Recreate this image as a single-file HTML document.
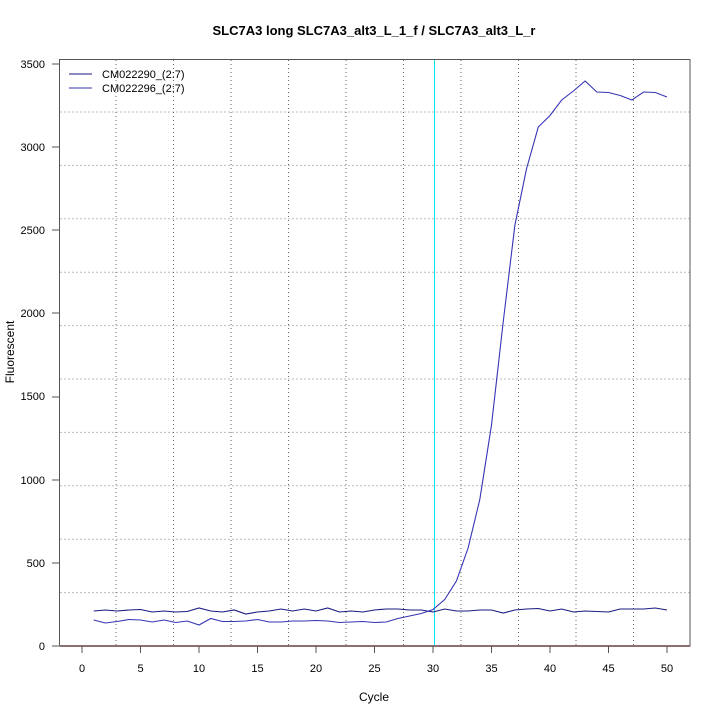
<!DOCTYPE html>
<html><head><meta charset="utf-8"><style>body{margin:0;background:#fff}svg{display:block}</style></head><body>
<svg width="720" height="720" xmlns="http://www.w3.org/2000/svg" font-family="Liberation Sans, sans-serif">
<rect width="720" height="720" fill="#fff"/>
<text x="374" y="35" font-size="13" font-weight="bold" text-anchor="middle">SLC7A3 long SLC7A3_alt3_L_1_f / SLC7A3_alt3_L_r</text>
<g stroke="#bbb" stroke-dasharray="2,2" stroke-width="1">
<line x1="60" x2="690" y1="112" y2="112"/><line x1="60" x2="690" y1="165.4" y2="165.4"/><line x1="60" x2="690" y1="218.8" y2="218.8"/><line x1="60" x2="690" y1="272.2" y2="272.2"/><line x1="60" x2="690" y1="325.6" y2="325.6"/><line x1="60" x2="690" y1="379" y2="379"/><line x1="60" x2="690" y1="432.4" y2="432.4"/><line x1="60" x2="690" y1="485.8" y2="485.8"/><line x1="60" x2="690" y1="539.2" y2="539.2"/><line x1="60" x2="690" y1="592.6" y2="592.6"/>
</g>
<g stroke="#666" stroke-dasharray="1,3" stroke-width="1">
<line y1="60" y2="646" x1="116" x2="116"/><line y1="60" y2="646" x1="173.5" x2="173.5"/><line y1="60" y2="646" x1="231" x2="231"/><line y1="60" y2="646" x1="288.5" x2="288.5"/><line y1="60" y2="646" x1="346" x2="346"/><line y1="60" y2="646" x1="403.5" x2="403.5"/><line y1="60" y2="646" x1="461" x2="461"/><line y1="60" y2="646" x1="518.5" x2="518.5"/><line y1="60" y2="646" x1="576" x2="576"/><line y1="60" y2="646" x1="633.5" x2="633.5"/>
</g>
<line x1="60" x2="690" y1="646" y2="646" stroke="#8b1a1a" stroke-width="1.5"/>
<line x1="434.5" x2="434.5" y1="60" y2="646" stroke="#00e5ee" stroke-width="1"/>
<rect x="59.5" y="59.5" width="630.5" height="586.5" fill="none" stroke="#555"/>
<g font-size="11" text-anchor="end">
<text x="45" y="650">0</text><text x="45" y="567">500</text><text x="45" y="484">1000</text><text x="45" y="400">1500</text><text x="45" y="317">2000</text><text x="45" y="234">2500</text><text x="45" y="151">3000</text><text x="45" y="68">3500</text>
</g>
<g stroke="#555"><line x1="52" x2="59" y1="646" y2="646"/><line x1="52" x2="59" y1="563" y2="563"/><line x1="52" x2="59" y1="480" y2="480"/><line x1="52" x2="59" y1="397" y2="397"/><line x1="52" x2="59" y1="313" y2="313"/><line x1="52" x2="59" y1="230" y2="230"/><line x1="52" x2="59" y1="147" y2="147"/><line x1="52" x2="59" y1="64" y2="64"/></g>
<g stroke="#555">
<line x1="82" x2="82" y1="646" y2="653"/><line x1="140.5" x2="140.5" y1="646" y2="653"/><line x1="199" x2="199" y1="646" y2="653"/><line x1="257.5" x2="257.5" y1="646" y2="653"/><line x1="316" x2="316" y1="646" y2="653"/><line x1="374.5" x2="374.5" y1="646" y2="653"/><line x1="433" x2="433" y1="646" y2="653"/><line x1="491.5" x2="491.5" y1="646" y2="653"/><line x1="550" x2="550" y1="646" y2="653"/><line x1="608.5" x2="608.5" y1="646" y2="653"/><line x1="667" x2="667" y1="646" y2="653"/>
</g>
<g font-size="11" text-anchor="middle">
<text x="82" y="672">0</text><text x="140.5" y="672">5</text><text x="199" y="672">10</text><text x="257.5" y="672">15</text><text x="316" y="672">20</text><text x="374.5" y="672">25</text><text x="433" y="672">30</text><text x="491.5" y="672">35</text><text x="550" y="672">40</text><text x="608.5" y="672">45</text><text x="667" y="672">50</text>
</g>
<text x="374" y="701" font-size="12" text-anchor="middle">Cycle</text>
<text transform="translate(14,352) rotate(-90)" font-size="12" text-anchor="middle">Fluorescent</text>
<line x1="69" x2="92" y1="74" y2="74" stroke="#1a1a80"/>
<line x1="69" x2="92" y1="88" y2="88" stroke="#3535b5"/>
<text x="102" y="78" font-size="11">CM022290_(2:7)</text>
<text x="102" y="92" font-size="11">CM022296_(2:7)</text>
<polyline fill="none" stroke="#1a1a80" stroke-width="1.1" points="93.7,611 105.4,610 117.1,611 128.8,610 140.5,609.5 152.2,612 163.9,611 175.6,612 187.3,611.5 199,608 210.7,611 222.4,612 234.1,610 245.8,614 257.5,612 269.2,611 280.9,609 292.6,611 304.3,609 316,611 327.7,608 339.4,612 351.1,611 362.8,612 374.5,610 386.2,609 397.9,609 409.6,610 421.3,610 433,612 444.7,609 456.4,611 468.1,611 479.8,610 491.5,610 503.2,613 514.9,610 526.6,609 538.3,608.5 550,611 561.7,609 573.4,612 585.1,611 596.8,611.5 608.5,612 620.2,609 631.9,609 643.6,609 655.3,608 667,610"/>
<polyline fill="none" stroke="#3535b5" stroke-width="1.1" points="93.7,620 105.4,623 117.1,621.5 128.8,619.5 140.5,620 152.2,622 163.9,620 175.6,622.5 187.3,621 199,625 210.7,618.5 222.4,621.5 234.1,621.5 245.8,621 257.5,619.5 269.2,622 280.9,622 292.6,621 304.3,621 316,620.5 327.7,621 339.4,622.5 351.1,622 362.8,621.5 374.5,622.5 386.2,622 397.9,618.5 409.6,616 421.3,613.5 433,609.5 444.7,599.5 456.4,581 468.1,548 479.8,499.5 491.5,425 503.2,322 514.9,225 526.6,168.5 538.3,127 550,115.5 561.7,100 573.4,91 585.1,81 596.8,92 608.5,92.5 620.2,95.5 631.9,100 643.6,92 655.3,92.5 667,97"/>
</svg>
</body></html>
